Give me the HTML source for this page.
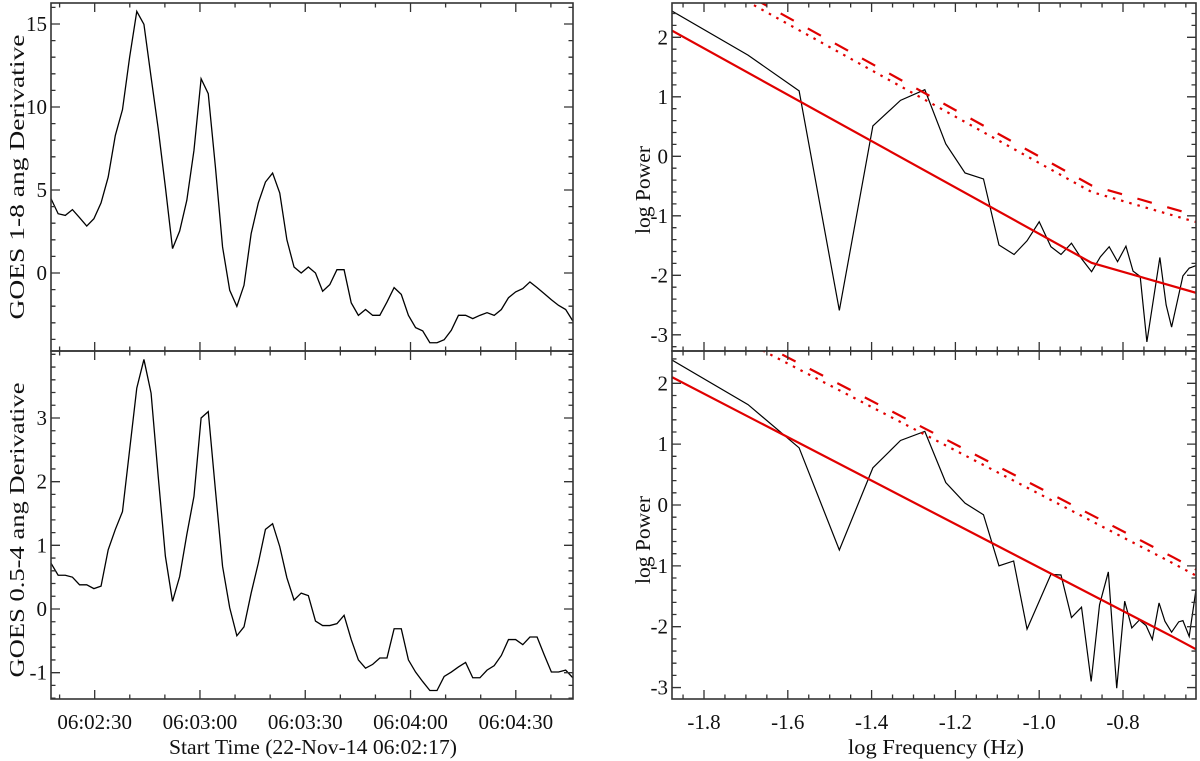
<!DOCTYPE html>
<html><head><meta charset="utf-8"><style>
html,body{margin:0;padding:0;background:#fff;}
svg{display:block;font-family:"Liberation Serif",serif;}
</style></head><body>
<svg id="chart" width="1200" height="761" viewBox="0 0 1200 761" xmlns="http://www.w3.org/2000/svg"></svg>
<script>
// ---- Time series data (seconds after 06:02:00, sample step ~2.04 s) ----
const tStart = 17.55;
const tStep = 2.037;
const goes18 = [4.48,3.57,3.47,3.82,3.33,2.83,3.27,4.22,5.78,8.29,9.84,13.0,15.76,14.98,11.8,8.69,5.18,1.47,2.53,4.38,7.39,11.7,10.8,6.39,1.57,-1.04,-2.01,-0.74,2.37,4.22,5.48,6.02,4.82,2.0,0.36,0,0.36,0,-1.1,-0.7,0.2,0.2,-1.8,-2.55,-2.2,-2.55,-2.55,-1.75,-0.88,-1.29,-2.55,-3.29,-3.49,-4.2,-4.2,-4.02,-3.45,-2.55,-2.55,-2.75,-2.55,-2.39,-2.55,-2.2,-1.49,-1.14,-0.94,-0.54,-0.88,-1.24,-1.61,-1.95,-2.2,-2.89];
const goes054 = [0.72,0.53,0.53,0.50,0.38,0.38,0.32,0.36,0.93,1.25,1.53,2.5,3.47,3.92,3.39,2.08,0.83,0.12,0.51,1.17,1.77,3.0,3.1,1.87,0.67,0.02,-0.42,-0.28,0.25,0.72,1.25,1.34,0.98,0.49,0.14,0.25,0.21,-0.19,-0.26,-0.26,-0.23,-0.1,-0.48,-0.8,-0.93,-0.87,-0.77,-0.77,-0.31,-0.31,-0.8,-0.99,-1.14,-1.28,-1.28,-1.06,-0.99,-0.91,-0.84,-1.08,-1.08,-0.96,-0.89,-0.73,-0.48,-0.48,-0.56,-0.44,-0.44,-0.72,-0.99,-0.99,-0.96,-1.08];
const timeTicks = [30,60,90,120,150];
const timeTickLabels = ["06:02:30","06:03:00","06:03:30","06:04:00","06:04:30"];
// ---- Power spectra ----
const logfTop = [-1.876,-1.695,-1.573,-1.477,-1.397,-1.331,-1.273,-1.223,-1.177,-1.133,-1.096,-1.060,-1.029,-1.000,-0.972,-0.948,-0.923,-0.899,-0.875,-0.854,-0.833,-0.813,-0.793,-0.776,-0.759,-0.743,-0.712,-0.697,-0.684,-0.657,-0.642,-0.623];
const powTop = [2.44,1.70,1.10,-2.59,0.51,0.94,1.12,0.21,-0.28,-0.38,-1.49,-1.65,-1.42,-1.10,-1.52,-1.65,-1.46,-1.72,-1.94,-1.69,-1.52,-1.77,-1.51,-1.93,-2.02,-3.12,-1.70,-2.50,-2.87,-2.01,-1.88,-1.83];
const logfBot = [-1.876,-1.695,-1.573,-1.477,-1.397,-1.331,-1.273,-1.223,-1.177,-1.133,-1.096,-1.061,-1.029,-0.972,-0.948,-0.923,-0.899,-0.876,-0.856,-0.835,-0.815,-0.796,-0.779,-0.761,-0.745,-0.730,-0.714,-0.700,-0.684,-0.667,-0.657,-0.642,-0.623];
const powBot = [2.38,1.65,0.94,-0.74,0.61,1.06,1.21,0.37,0.03,-0.16,-1.0,-0.92,-2.04,-1.14,-1.15,-1.85,-1.68,-2.9,-1.64,-1.10,-3.01,-1.58,-2.02,-1.89,-1.98,-2.21,-1.61,-1.91,-2.09,-1.92,-1.90,-2.16,-1.26];
// fit lines (breakpoints)
const fitTopF = [-1.876,-0.875,-0.623];
const fitTopP = [2.11,-1.79,-2.30];
const fitBotF = [-1.876,-0.680,-0.623];
const fitBotP = [2.10,-2.17,-2.38];
const conf95Offset = [1.30,1.31];
const conf99Offset = [1.19,1.21];
const freqTicks = [-1.8,-1.6,-1.4,-1.2,-1.0,-0.8];
const freqTickLabels = ["-1.8","-1.6","-1.4","-1.2","-1.0","-0.8"];

const NS="http://www.w3.org/2000/svg";
const svg=document.getElementById('chart');
function mk(tag,attrs,parent){const e=document.createElementNS(NS,tag);for(const k in attrs)e.setAttribute(k,attrs[k]);(parent||svg).appendChild(e);return e;}
function lin(d0,d1,r0,r1){return v=>r0+(v-d0)*(r1-r0)/(d1-d0);}

function frame(g,x0,y0,x1,y1,xs,ys,xMajor,xMinorStep,xRange,yMajor,yMinorStep,yRange){
  const r=mk('rect',{x:x0,y:y0,width:x1-x0,height:y1-y0,fill:'none',stroke:'#333','stroke-width':1.6},g);
  
  
  let p='';
  const xs0=Math.ceil(xRange[0]/xMinorStep-1e-6);
  for(let k=xs0;k*xMinorStep<=xRange[1]+1e-9;k++){
    const v=k*xMinorStep;const isMaj=xMajor.some(m=>Math.abs(m-v)<1e-6);const L=isMaj?9:4.5;const x=xs(v);
    p+=`M${x},${y1}v${-L}M${x},${y0}v${L}`;
  }
  const ys0=Math.ceil(yRange[0]/yMinorStep-1e-6);
  for(let k=ys0;k*yMinorStep<=yRange[1]+1e-9;k++){
    const v=k*yMinorStep;const isMaj=yMajor.some(m=>Math.abs(m-v)<1e-6);const L=isMaj?9:4.5;const y=ys(v);
    p+=`M${x0},${y}h${L}M${x1},${y}h${-L}`;
  }
  const t=mk('path',{d:p,stroke:'#333','stroke-width':1.3,fill:'none'},g);
  
  
}
function ylabels(g,x,ys,vals,labs){
  vals.forEach((v,i)=>{const t=mk('text',{x:x,y:ys(v)+7,'text-anchor':'end','font-size':21,fill:'#111'},g);t.textContent=labs[i];
    
    });
}
function polyline(g,xa,ya,xs,ys,attrs,name){
  const pts=xa.map((x,i)=>xs(x).toFixed(2)+','+ys(ya[i]).toFixed(2)).join(' ');
  const e=mk('polyline',Object.assign({points:pts,fill:'none'},attrs),g);
  
  
  return e;
}
function ytitle(g,cx,cy,txt,len,name){
  const t=mk('text',{x:0,y:0,transform:`translate(${cx},${cy}) rotate(-90)`,'text-anchor':'middle','font-size':21,fill:'#111',textLength:len,lengthAdjust:'spacingAndGlyphs'},g);
  t.textContent=txt;
  
  
}

// ===== Left panels =====
const LX0=51,LX1=573;
const xT=lin(17.55,166.3,LX0,LX1);
const times=goes18.map((_,i)=>tStart+i*tStep);
// top-left
{
  const g=mk('g',{});  
  const y0=3,y1=351; const ys=lin(0,15,273,24);
  const clip=mk('clipPath',{id:'c1'},g); mk('rect',{x:LX0,y:y0,width:LX1-LX0,height:y1-y0},clip);
  const lg=mk('g',{'clip-path':'url(#c1)'},g);
  polyline(lg,times,goes18,xT,ys,{stroke:'#000','stroke-width':1.3},'goes-1-8-line');
  frame(g,LX0,y0,LX1,y1,xT,ys,timeTicks,10,[17.55,166.3],[15,10,5,0],1,[-4.7,16.3]);
  ylabels(g,47,ys,[15,10,5,0],["15","10","5","0"]);
  ytitle(g,24,177,'GOES 1-8 ang Derivative',285,'y-axis-title-1-8');
}
// bottom-left
{
  const g=mk('g',{});  
  const y0=351,y1=699; const ys=lin(0,3,609,418);
  const clip=mk('clipPath',{id:'c2'},g); mk('rect',{x:LX0,y:y0,width:LX1-LX0,height:y1-y0},clip);
  const lg=mk('g',{'clip-path':'url(#c2)'},g);
  polyline(lg,times,goes054,xT,ys,{stroke:'#000','stroke-width':1.3},'goes-0.5-4-line');
  frame(g,LX0,y0,LX1,y1,xT,ys,timeTicks,10,[17.55,166.3],[3,2,1,0,-1],0.2,[-1.43,4.05]);
  ylabels(g,47,ys,[3,2,1,0,-1],["3","2","1","0","-1"]);
  ytitle(g,24,530,'GOES 0.5-4 ang Derivative',295,'y-axis-title-0.5-4');
  timeTicks.forEach((v,i)=>{const t=mk('text',{x:xT(v),y:729,'text-anchor':'middle','font-size':21,fill:'#111'},g);t.textContent=timeTickLabels[i];
    
    });
  const tt=mk('text',{x:313,y:754,'text-anchor':'middle','font-size':21,fill:'#111',textLength:288,lengthAdjust:'spacingAndGlyphs'},g);
  tt.textContent='Start Time (22-Nov-14 06:02:17)';
  
  
}
// ===== Right panels =====
const RX0=672,RX1=1196;
const xF=lin(-1.8,-0.8,704,1123);
function spectrum(id,y0,y1,ys,logf,pow,fitF,fitP,yr,name,titleCy){
  const g=mk('g',{});  
  const clip=mk('clipPath',{id:id},g); mk('rect',{x:RX0,y:y0,width:RX1-RX0,height:y1-y0},clip);
  const lg=mk('g',{'clip-path':`url(#${id})`},g);
  polyline(lg,logf,pow,xF,ys,{stroke:'#000','stroke-width':1.2},'power-spectrum-line');
  polyline(lg,fitF,fitP,xF,ys,{stroke:'#e00000','stroke-width':2.2},'power-law-fit-line');
  const ci=name.indexOf('top')>=0?0:1;
  polyline(lg,fitF,fitP.map(v=>v+conf95Offset[ci]),xF,ys,{stroke:'#e00000','stroke-width':2.2,'stroke-dasharray':'15,16'},'confidence-95-line');
  polyline(lg,fitF,fitP.map(v=>v+conf99Offset[ci]),xF,ys,{stroke:'#e00000','stroke-width':2.2,'stroke-dasharray':'2.5,6'},'confidence-99-line');
  frame(g,RX0,y0,RX1,y1,xF,ys,freqTicks,0.05,[-1.876,-0.625],[2,1,0,-1,-2,-3],0.2,yr);
  ylabels(g,668,ys,[2,1,0,-1,-2,-3],["2","1","0","-1","-2","-3"]);
  ytitle(g,650,titleCy,'log Power',88,'y-axis-title-log-power');
  return g;
}
spectrum('c3',3,351,lin(0,2,156.3,37.3),logfTop,powTop,fitTopF,fitTopP,[-3.26,2.57],'spectrum-top-panel',190);
const gb=spectrum('c4',351,699,lin(0,2,505,383.3),logfBot,powBot,fitBotF,fitBotP,[-3.16,2.51],'spectrum-bottom-panel',540);
freqTicks.forEach((v,i)=>{const t=mk('text',{x:xF(v),y:729,'text-anchor':'middle','font-size':21,fill:'#111'},gb);t.textContent=freqTickLabels[i];
  
  });
const ft=mk('text',{x:936,y:754,'text-anchor':'middle','font-size':21,fill:'#111',textLength:176,lengthAdjust:'spacingAndGlyphs'},gb);
ft.textContent='log Frequency (Hz)';


</script>
</body></html>
